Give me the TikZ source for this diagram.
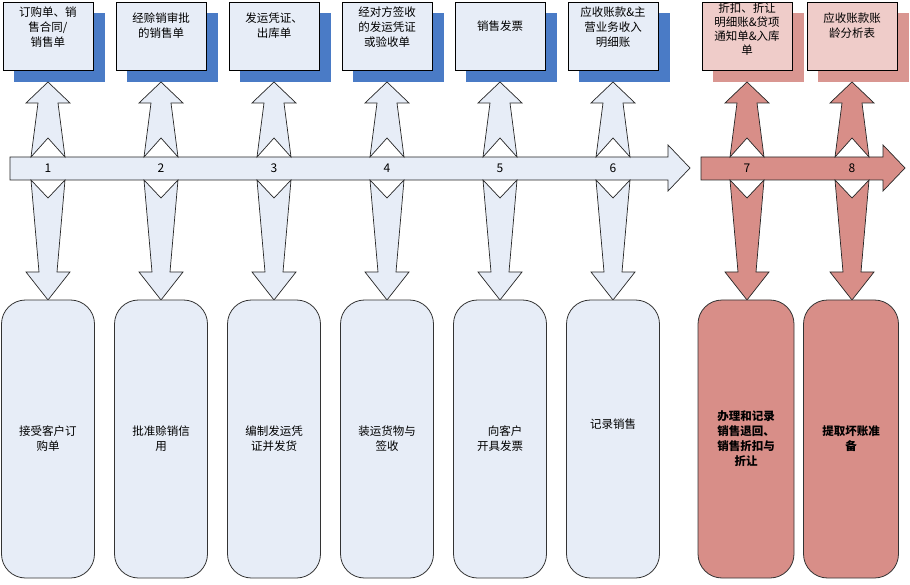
\documentclass[tikz,border=0pt]{standalone}
\usepackage{fontspec}
\setmainfont{Noto Sans CJK SC}
\begin{document}
\begin{tikzpicture}[x=1pt,y=-1pt,
  topbox/.style={draw=black,line width=0.8pt,minimum width=90pt,minimum height=68pt,inner sep=0pt},
  toptxt/.style={anchor=north,align=center,font=\fontsize{11.5}{15}\selectfont,inner sep=0pt,yshift=-5pt},
  botbox/.style={draw=black!80,line width=0.8pt,rounded corners=24pt,minimum width=93pt,minimum height=278pt,align=center,font=\fontsize{11.5}{15}\selectfont},
  arr/.style={draw=black!85,line width=0.7pt},
  num/.style={font=\fontsize{12}{14}\selectfont}]
\definecolor{lb}{HTML}{E7EDF7}
\definecolor{db}{HTML}{4A7BC6}
\definecolor{lr}{HTML}{EFCCC9}
\definecolor{dr}{HTML}{D99691}
\definecolor{mr}{HTML}{D88E88}
\path[use as bounding box] (0,0) rectangle (910,585);
% bars
\draw[arr,fill=lb] (10,157) -- (668,157) -- (668,145) -- (690,168) -- (668,191) -- (668,180) -- (10,180) -- cycle;
\draw[arr,fill=mr] (701,157) -- (883,157) -- (883,145) -- (905,168) -- (883,191) -- (883,180) -- (701,180) -- cycle;
% columns
\foreach \c/\bl/\tc/\sc/\ac/\n in {48/3/lb/db/lb/1,161/116/lb/db/lb/2,274/229/lb/db/lb/3,387/342/lb/db/lb/4,500/455/lb/db/lb/5,613/568/lb/db/lb/6,747/702/lr/dr/mr/7,852/807/lr/dr/mr/8}{
  \fill[\sc] (\bl+11,13) rectangle (\bl+102,82);
  \draw[arr,fill=\ac] (\c-17,157) -- (\c,138) -- (\c+17,157) -- (\c+10,103) -- (\c+22,103) -- (\c,82) -- (\c-22,103) -- (\c-10,103) -- cycle;
  \draw[arr,fill=\ac] (\c-17,180) -- (\c,198) -- (\c+17,180) -- (\c+9,272) -- (\c+22,272) -- (\c,300) -- (\c-22,272) -- (\c-9,272) -- cycle;
  \node[num] (n\n) at (\c,168) {\n};
}
\node[topbox,fill=lb] (t1) at (48,36) {};
\node[topbox,fill=lb] (t2) at (161,36) {};
\node[topbox,fill=lb] (t3) at (274,36) {};
\node[topbox,fill=lb] (t4) at (387,36) {};
\node[topbox,fill=lb] (t5) at (500,36) {};
\node[topbox,fill=lb] (t6) at (613,36) {};
\node[topbox,fill=lr] (t7) at (747,36) {};
\node[topbox,fill=lr] (t8) at (852,36) {};
\node[toptxt] (x1) at (t1.north) {订购单、销\\售合同/\\销售单};
\node[toptxt,yshift=-6pt] (x2) at (t2.north) {经赊销审批\\的销售单};
\node[toptxt,yshift=-6pt] (x3) at (t3.north) {发运凭证、\\出库单};
\node[toptxt] (x4) at (t4.north) {经对方签收\\的发运凭证\\或验收单};
\node[toptxt,yshift=-14pt] (x5) at (t5.north) {销售发票};
\node[toptxt] (x6) at (t6.north) {应收账款\&主\\营业务收入\\明细账};
\node[toptxt,yshift=4pt,font=\fontsize{11.5}{14}\selectfont] (x7) at (t7.north) {折扣、折让\\明细账\&贷项\\通知单\&入库\\单};
\node[toptxt,yshift=-6pt] (x8) at (t8.north) {应收账款账\\龄分析表};
\node[botbox,fill=lb] (b1) at (48,439) {接受客户订\\购单};
\node[botbox,fill=lb] (b2) at (161,439) {批准赊销信\\用};
\node[botbox,fill=lb] (b3) at (274,439) {编制发运凭\\证并发货};
\node[botbox,fill=lb] (b4) at (387,439) {装运货物与\\签收};
\node[botbox,fill=lb] (b5) at (500,439) {\hspace*{10pt}向客户\\开具发票};
\node[botbox,fill=lb] (b6) at (613,439) {记录销售\\[15pt]};
\node[botbox,fill=mr,font=\bfseries\fontsize{11.5}{15}\selectfont,minimum width=96pt] (b7) at (746,439) {办理和记录\\销售退回、\\销售折扣与\\折让};
\node[botbox,fill=mr,font=\bfseries\fontsize{11.5}{15}\selectfont,minimum width=95pt] (b8) at (851,439) {提取坏账准\\备};
\end{tikzpicture}
\end{document}
